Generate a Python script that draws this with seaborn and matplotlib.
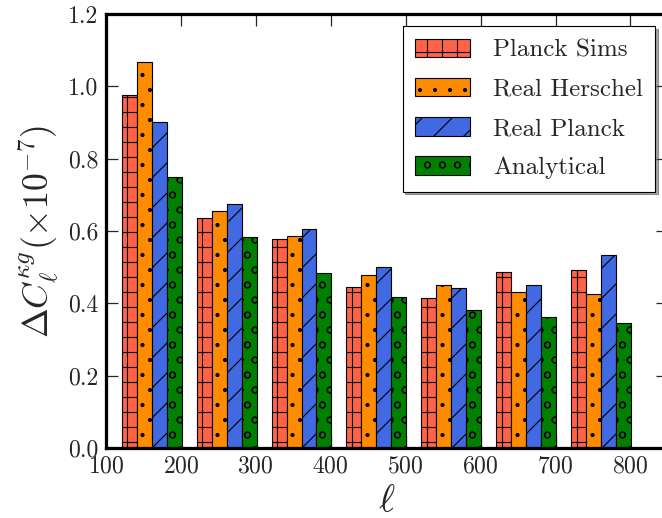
import numpy as np
import pandas as pd
import matplotlib
matplotlib.use("Agg")
import matplotlib.pyplot as plt
import seaborn as sns

# ----------------------------
# Data
# ----------------------------

ell = [161, 261, 361, 461, 561, 661, 761]
series = ["Planck Sims", "Real Herschel", "Real Planck", "Analytical"]

planck_sims = [0.976, 0.636, 0.577, 0.444, 0.414, 0.486, 0.491]
real_herschel = [1.066, 0.655, 0.586, 0.479, 0.452, 0.432, 0.425]
real_planck = [0.901, 0.675, 0.605, 0.501, 0.442, 0.452, 0.534]
analytical = [0.749, 0.583, 0.483, 0.417, 0.381, 0.363, 0.346]

colors = ["tomato", "darkorange", "royalblue", "green"]
hatches = ["+", ".", "/", "o"]

df = pd.DataFrame({
    "ell": ell * 4,
    "value": planck_sims + real_herschel + real_planck + analytical,
    "series": np.repeat(series, len(ell)),
})

# ----------------------------
# Style
# ----------------------------

sns.set_style("ticks")
plt.rcParams["font.family"] = ["serif"]
plt.rcParams["font.serif"] = ["cmr10"]
plt.rcParams["mathtext.fontset"] = "cm"
plt.rcParams["axes.formatter.use_mathtext"] = True
plt.rcParams["axes.unicode_minus"] = False
plt.rcParams["hatch.linewidth"] = 0.9
plt.rcParams["hatch.color"] = "black"

# ----------------------------
# Plot
# ----------------------------

DPI = 90
fig = plt.figure(figsize=(662 / DPI, 518 / DPI), dpi=DPI)
ax = fig.add_axes([0.160, 0.135, 0.849, 0.838])

sns.barplot(
    data=df,
    x="ell",
    y="value",
    hue="series",
    hue_order=series,
    palette=colors,
    saturation=1,
    native_scale=True,
    width=0.8,
    edgecolor="black",
    linewidth=0.9,
    legend=False,
    ax=ax,
)

for cont, h in zip(ax.containers, hatches):
    for p in cont.patches:
        p.set_hatch(h)

ax.set_xlim(100, 850)
ax.set_ylim(0, 1.2)
ax.set_xticks([100, 200, 300, 400, 500, 600, 700, 800])
ax.set_yticks([0.0, 0.2, 0.4, 0.6, 0.8, 1.0, 1.2])
ax.set_yticklabels(["0.0", "0.2", "0.4", "0.6", "0.8", "1.0", "1.2"])

ax.tick_params(direction="in", length=9.6, width=1.0, top=True, right=True,
               labelsize=19, pad=6)
for s in ax.spines.values():
    s.set_linewidth(2.6)
    s.set_color("black")

ax.set_xlabel(r"$\ell$", fontsize=31, labelpad=4)
ax.set_ylabel(r"$\Delta C_\ell^{\kappa g}(\times 10^{-7})$", fontsize=28.5, labelpad=6)

leg = ax.legend(
    handles=ax.containers,
    labels=series,
    loc="upper right",
    fontsize=20,
    frameon=True,
    fancybox=False,
    shadow=True,
    framealpha=1,
    edgecolor="black",
    handlelength=2.2,
    handleheight=0.75,
    handletextpad=0.9,
    labelspacing=0.65,
    borderpad=0.5,
    borderaxespad=0.5,
)
leg.get_frame().set_linewidth(0.9)

plt.savefig("out.png", dpi=DPI)
